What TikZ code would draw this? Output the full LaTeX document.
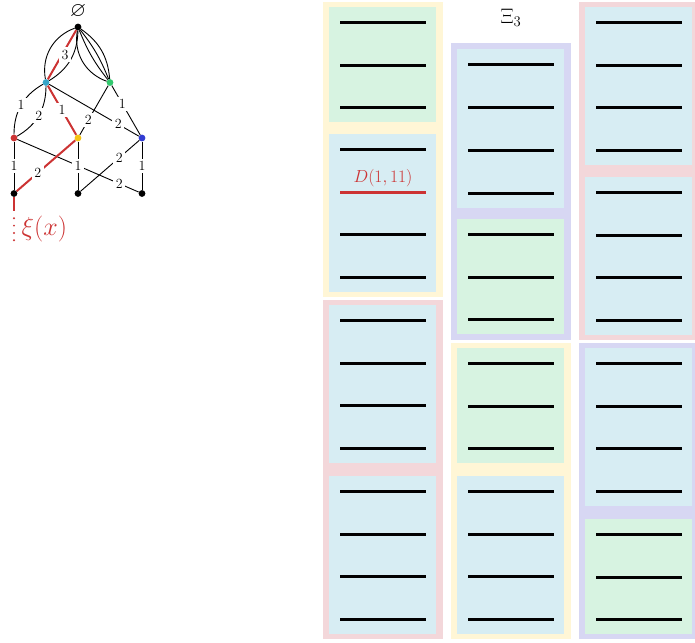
\RequirePackage{fix-cm}
\documentclass[tikz,border=0pt]{standalone}
\usepackage{amssymb}
\definecolor{yellowbg}{RGB}{255,246,214}
\definecolor{pinkbg}{RGB}{243,215,218}
\definecolor{purplebg}{RGB}{215,215,243}
\definecolor{greenbg}{RGB}{215,243,225}
\definecolor{bluebg}{RGB}{215,237,243}
\definecolor{redE}{RGB}{204,51,51}
\definecolor{cyanN}{RGB}{55,165,200}
\definecolor{greenN}{RGB}{50,200,110}
\definecolor{yellowN}{RGB}{245,195,20}
\definecolor{blueN}{RGB}{50,60,210}
\newcommand\laneslab[4]{%
  \fill[#4] (#1,#2) rectangle ({#1+107},{#2+29.6+(#3-1)*42.8});
  \foreach \k in {1,...,#3}{\draw[barline] ({#1+11},{round(#2+14.8+(\k-1)*42.8)+0.5}) -- ({#1+97},{round(#2+14.8+(\k-1)*42.8)+0.5});}
}
\begin{document}
\begin{tikzpicture}[x=1pt,y=-1pt,
  vtx/.style={circle,inner sep=0pt,minimum size=6.8pt,draw=none},
  edge/.style={line width=0.9pt,black},
  redge/.style={line width=2pt,color=redE},
  elab/.style={fill=white,inner sep=2.5pt,font=\fontsize{14}{14}\selectfont},
  barline/.style={line width=2.8pt,black},
]
\useasboundingbox (0,0) rectangle (695,642);
% outer frames
\fill[yellowbg] (323,2) rectangle (443,297);
\fill[pinkbg] (323,300) rectangle (443,638.5);
\fill[purplebg] (451,43.5) rectangle (571,339.5);
\fill[yellowbg] (451,343) rectangle (571,638.5);
\fill[pinkbg] (579,2) rectangle (695,339.5);
\fill[purplebg] (579,343) rectangle (695,638.5);
% inner slabs
\laneslab{329}{7}{3}{greenbg}
\laneslab{329}{134}{4}{bluebg}
\laneslab{329}{305}{4}{bluebg}
\laneslab{329}{476}{4}{bluebg}
\laneslab{457}{49.5}{4}{bluebg}
\laneslab{457}{219}{3}{greenbg}
\laneslab{457}{348}{3}{greenbg}
\laneslab{457}{476}{4}{bluebg}
\laneslab{585}{7}{4}{bluebg}
\laneslab{585}{177}{4}{bluebg}
\laneslab{585}{348}{4}{bluebg}
\laneslab{585}{519}{3}{greenbg}
\draw[barline,color=redE] (340,192.5) -- (426,192.5);
\node[anchor=base,text=redE,inner sep=0pt,font=\fontsize{17.5}{18}\selectfont] (dlab) at (383,182.7) {$D(1,11)$};
\node[anchor=base,inner sep=0pt,font=\fontsize{21}{21}\selectfont] (xilab) at (511,23.3) {$\Xi_3$};
% graph vertices
\node[anchor=base,font=\fontsize{20.5}{21}\selectfont,inner sep=0pt] (empty) at (78,16.5) {$\varnothing$};
\node[vtx,fill=black] (t) at (78,27) {};
\node[vtx,fill=cyanN] (c) at (46,82.5) {};
\node[vtx,fill=greenN] (g) at (110,82.5) {};
\node[vtx,fill=redE] (r) at (14,138) {};
\node[vtx,fill=yellowN] (y) at (78,138) {};
\node[vtx,fill=blueN] (b) at (142,138) {};
\node[vtx,fill=black] (b1) at (14,193.5) {};
\node[vtx,fill=black] (b2) at (78,193.5) {};
\node[vtx,fill=black] (b3) at (142,193.5) {};
% black edges
\draw[edge] (t) to[bend right=40] (c);
\draw[edge] (t) to[bend left=29] (c);
\draw[edge] (t) to[bend right=40] (g);
\draw[edge] (t) to[bend right=8] (g);
\draw[edge] (t) to[bend left=8] (g);
\draw[edge] (t) to[bend left=25] (g);
\draw[edge] (c) to[bend right=30] coordinate[pos=0.5] (l1) (r);
\draw[edge] (c) to[bend left=30] coordinate[pos=0.5] (l2) (r);
\draw[edge] (c) -- coordinate[pos=0.77] (l3) (b);
\draw[edge] (g) -- coordinate[pos=0.7] (l4) (y);
\draw[edge] (g) -- coordinate[pos=0.37] (l5) (b);
\draw[edge] (r) -- coordinate[pos=0.5] (l6) (b1);
\draw[edge] (r) -- coordinate[pos=0.84] (l7) (b3);
\draw[edge] (y) -- coordinate[pos=0.5] (l8) (b2);
\draw[edge] (b) -- coordinate[pos=0.34] (l9) (b2);
\draw[edge] (b) -- coordinate[pos=0.5] (l10) (b3);
% red edges
\draw[redge] (t) -- coordinate[pos=0.5] (l11) (c);
\draw[redge] (c) -- coordinate[pos=0.5] (l12) (y);
\draw[redge] (y) -- coordinate[pos=0.64] (l13) (b1);
\coordinate (tailA) at (14,211);
\coordinate (tailB) at (14,218.3);
\coordinate (tailC) at (14,241);
\draw[redge] (b1) -- (tailA);
\draw[color=redE,line width=2.2pt,line cap=round,dash pattern=on 0pt off 7.3pt] (tailB) -- (tailC);
\node[anchor=base west,text=redE,inner sep=0pt,font=\fontsize{26}{26}\selectfont] (xix) at (21.5,235.5) {$\xi(x)$};
% edge labels
\node[elab] (n1) at (l1) {1};
\node[elab] (n2) at (l2) {2};
\node[elab] (n3) at (l3) {2};
\node[elab] (n4) at (l4) {2};
\node[elab] (n5) at (l5) {1};
\node[elab] (n6) at (l6) {1};
\node[elab] (n7) at (l7) {2};
\node[elab] (n8) at (l8) {1};
\node[elab] (n9) at (l9) {2};
\node[elab] (n10) at (l10) {1};
\node[elab] (n11) at ([xshift=3pt]l11) {3};
\node[elab] (n12) at (l12) {1};
\node[elab] (n13) at (l13) {2};
\end{tikzpicture}
\end{document}
